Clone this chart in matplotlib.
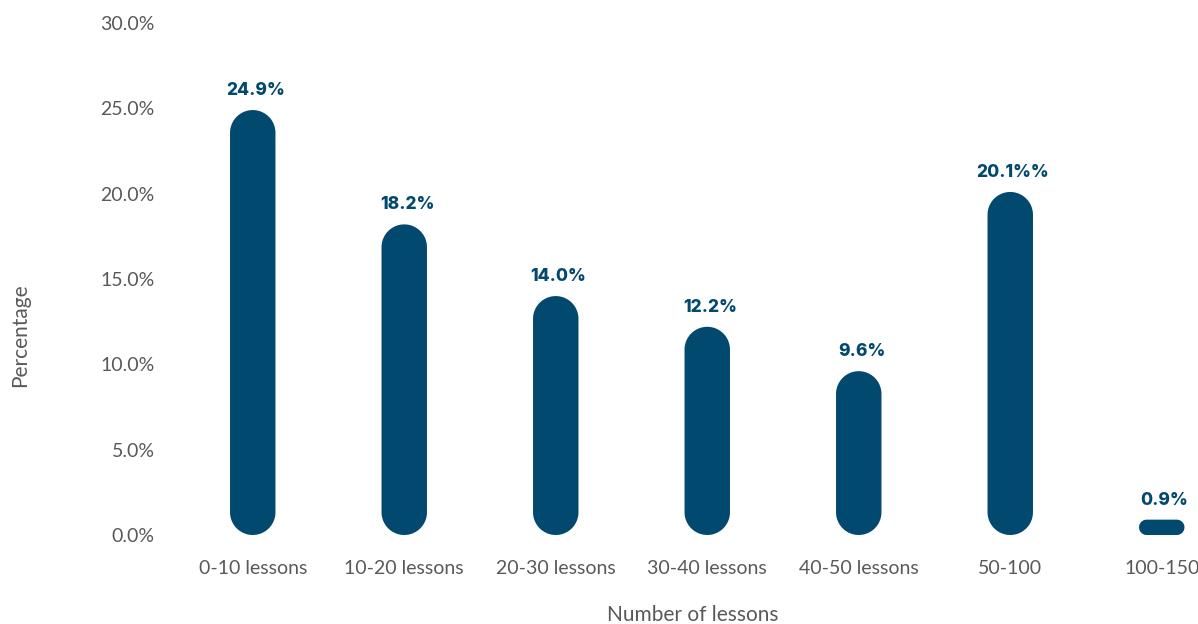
import numpy as np
import matplotlib.pyplot as plt
from matplotlib.patches import Polygon
from matplotlib.ticker import FuncFormatter

categories = ["0-10 lessons", "10-20 lessons", "20-30 lessons", "30-40 lessons",
              "40-50 lessons", "50-100", "100-150"]
values = [24.9, 18.2, 14.0, 12.2, 9.6, 20.1, 0.9]
value_labels = ["24.9%", "18.2%", "14.0%", "12.2%", "9.6%", "20.1%%", "0.9%"]

BAR_COLOR = "#02496F"
TEXT_GREY = "#595959"
BAR_W = 0.30


def rounded_bar(ax, x, h, w, aspect):
    # rounded rectangle with circular corners on screen (aspect = y units per x unit)
    r = min(w / 2, h / aspect / 2)  # radius in x units
    ry = r * aspect
    x0, x1 = x - w / 2, x + w / 2
    corners = [(x1 - r, h - ry, 0, 90), (x0 + r, h - ry, 90, 180),
               (x0 + r, ry, 180, 270), (x1 - r, ry, 270, 360)]
    pts = []
    for cx, cy, a0, a1 in corners:
        t = np.radians(np.linspace(a0, a1, 20))
        pts += list(zip(cx + r * np.cos(t), cy + ry * np.sin(t)))
    ax.add_patch(Polygon(pts, closed=True, facecolor=BAR_COLOR, edgecolor="none",
                         clip_on=False))


fig = plt.figure(figsize=(11.98, 6.24), dpi=100)
ax = fig.add_axes([177 / 1198, 89 / 624, 1060.5 / 1198, 512 / 624])
ax.set_xlim(-0.5, 6.5)
ax.set_ylim(0, 30)

bbox = ax.get_window_extent()
aspect = (30 / bbox.height) / (7 / bbox.width)

for i, v in enumerate(values):
    rounded_bar(ax, i, v, BAR_W, aspect)
    ax.annotate(value_labels[i], (i, v), xytext=(2, 8), textcoords="offset points",
                ha="center", va="bottom", fontsize=12.5, fontweight="heavy",
                color=BAR_COLOR, family=["Inter", "DejaVu Sans"])

ax.set_xticks(range(len(categories)))
ax.set_xticklabels(categories)
ax.set_yticks([0, 5, 10, 15, 20, 25, 30])
ax.yaxis.set_major_formatter(FuncFormatter(lambda y, _: f"{y:.1f}%"))
ax.tick_params(axis="both", length=0, labelsize=14, labelcolor=TEXT_GREY)
ax.tick_params(axis="y", pad=16)
ax.tick_params(axis="x", pad=18)
for lab in ax.get_xticklabels() + ax.get_yticklabels():
    lab.set_family(["Lato", "DejaVu Sans"])
for s in ax.spines.values():
    s.set_visible(False)

fig.text(20 / 1198, 1 - 335 / 624, "Percentage", rotation=90, ha="center", va="center",
         fontsize=15, color=TEXT_GREY, family=["Lato", "DejaVu Sans"])
fig.text(693 / 1198, 1 - 615 / 624, "Number of lessons", ha="center", va="center",
         fontsize=15, color=TEXT_GREY, family=["Lato", "DejaVu Sans"])

fig.savefig("out.png", dpi=100)
